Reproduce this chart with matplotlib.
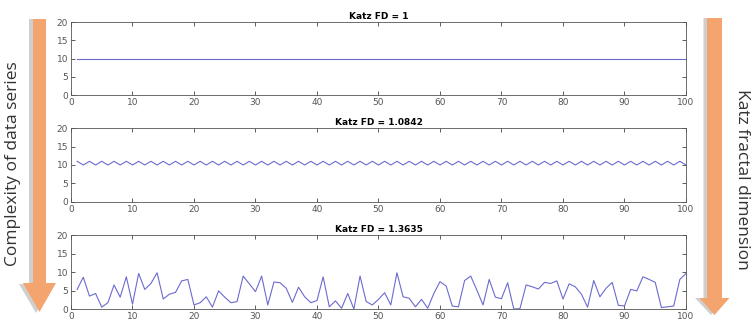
import matplotlib
matplotlib.use('Agg')
import matplotlib.pyplot as plt
from matplotlib.patches import FancyArrow

# dados
x = list(range(1, 101))
serie1 = [10] * 100
serie2 = [11, 10, 11, 10, 11, 10, 11, 10, 11, 10, 11, 10, 11, 10, 11, 10, 11, 10, 11, 10,
          11, 10, 11, 10, 11, 10, 11, 10, 11, 10, 11, 10, 11, 10, 11, 10, 11, 10, 11, 10,
          11, 10, 11, 10, 11, 10, 11, 10, 11, 10, 11, 10, 11, 10, 11, 10, 11, 10, 11, 10,
          11, 10, 11, 10, 11, 10, 11, 10, 11, 10, 11, 10, 11, 10, 11, 10, 11, 10, 11, 10,
          11, 10, 11, 10, 11, 10, 11, 10, 11, 10, 11, 10, 11, 10, 11, 10, 11, 10, 11, 10]
serie3 = [5.3, 8.6, 3.5, 4.2, 0.5, 1.7, 6.5, 3.2, 8.7, 1.3,
          9.6, 5.3, 6.9, 9.8, 2.7, 4.0, 4.5, 7.6, 8.0, 1.1,
          1.7, 3.3, 0.5, 4.9, 3.2, 1.7, 2.0, 8.9, 6.8, 4.7,
          8.9, 1.1, 7.3, 7.1, 5.6, 1.8, 5.9, 3.3, 1.7, 2.3,
          8.7, 0.6, 2.2, 0.2, 4.2, 0.0, 8.9, 2.0, 1.1, 2.6,
          4.4, 1.1, 9.8, 3.3, 2.9, 0.6, 2.6, 0.2, 4.2, 7.4,
          6.2, 0.8, 0.6, 7.7, 8.9, 5.1, 1.1, 8.0, 3.2, 2.8,
          7.1, 0.0, 0.1, 6.5, 6.0, 5.4, 7.2, 6.9, 7.6, 2.7,
          6.8, 6.0, 4.0, 0.5, 7.7, 3.3, 5.6, 7.2, 1.0, 0.8,
          5.3, 4.9, 8.7, 8.0, 7.2, 0.4, 0.6, 0.8, 8.0, 9.6]
titulos = ['Katz FD = 1', 'Katz FD = 1.0842', 'Katz FD = 1.3635']
xticks = list(range(0, 101, 10))
yticks = list(range(0, 21, 5))

fig = plt.figure(figsize=(7.56, 3.30), dpi=100)

posicoes = [[0.0939, 0.7121, 0.8135, 0.2212],
            [0.0939, 0.3879, 0.8135, 0.2242],
            [0.0939, 0.0636, 0.8135, 0.2242]]

for pos, serie, titulo in zip(posicoes, [serie1, serie2, serie3], titulos):
    ax = fig.add_axes(pos)
    ax.plot(x, serie, color='#6b6bd0', linewidth=0.8)
    ax.set_xlim(0, 100)
    ax.set_ylim(0, 20)
    ax.set_xticks(xticks)
    ax.set_yticks(yticks)
    ax.tick_params(direction='in', top=True, right=True, length=3, width=0.6,
                   labelsize=6.5, labelcolor='#555555', color='#444444', pad=2)
    for s in ax.spines.values():
        s.set_color('#555555')
        s.set_linewidth(0.6)
    ax.set_title(titulo, fontsize=6.5, fontweight='bold', pad=2)

# camada de setas em pixels
over = fig.add_axes([0, 0, 1, 1], zorder=-1)
over.set_xlim(0, 756)
over.set_ylim(330, 0)
over.axis('off')

laranja = '#f4a46e'
# sombras
over.add_patch(FancyArrow(36, 19, 0, 265, width=14, head_width=34, head_length=29,
                          length_includes_head=False, color='#b0b0b0', alpha=0.6, lw=0))
over.add_patch(FancyArrow(711, 18, 0, 280, width=15, head_width=32, head_length=17,
                          length_includes_head=False, color='#b0b0b0', alpha=0.6, lw=0))
# setas
over.add_patch(FancyArrow(39.5, 19, 0, 264, width=13, head_width=33, head_length=29,
                          length_includes_head=False, color=laranja, lw=0))
over.add_patch(FancyArrow(714.5, 18, 0, 280, width=15, head_width=30, head_length=17,
                          length_includes_head=False, color=laranja, lw=0))

fig.text(0.017, 0.505, 'Complexity of data series', rotation=90, ha='center', va='center',
         fontsize=12.5, family='Open Sans', color='#333333')
fig.text(0.982, 0.455, 'Katz fractal dimension', rotation=-90, ha='center', va='center',
         fontsize=12.5, family='Open Sans', color='#333333')

plt.savefig('out.png', dpi=100)
